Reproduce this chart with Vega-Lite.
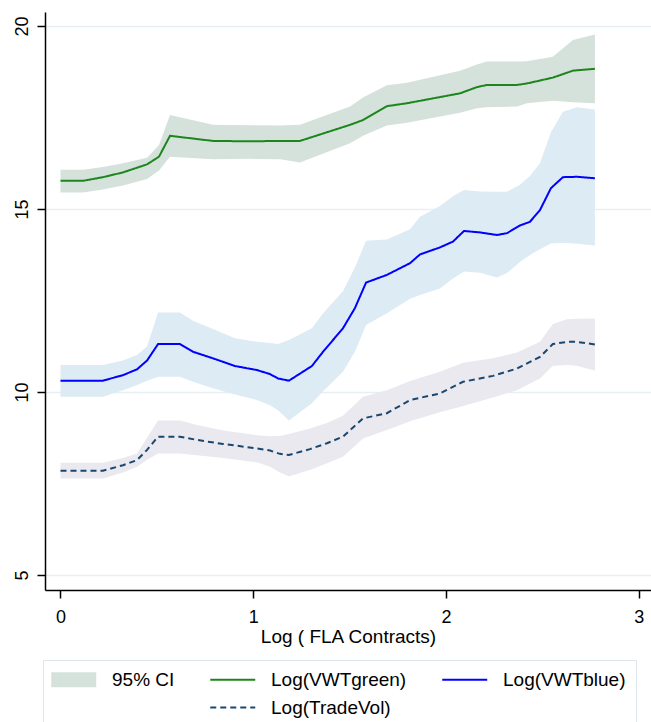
{
  "$schema": "https://vega.github.io/schema/vega-lite/v6.json",
  "width": 606,
  "height": 578,
  "autosize": {"type": "none"},
  "padding": {"left": 45, "top": 12, "right": 0, "bottom": 132},
  "background": "white",
  "config": {
    "font": "Liberation Sans",
    "view": {"stroke": null}
  },
  "data": {"values": [
    {"key": "Log(VWTgreen)", "x": 0, "y": 15.77, "lo": 15.45, "hi": 16.07},
    {"key": "Log(VWTgreen)", "x": 0.117, "y": 15.77, "lo": 15.45, "hi": 16.07},
    {"key": "Log(VWTgreen)", "x": 0.220, "y": 15.87, "lo": 15.53, "hi": 16.15},
    {"key": "Log(VWTgreen)", "x": 0.324, "y": 16.00, "lo": 15.64, "hi": 16.25},
    {"key": "Log(VWTgreen)", "x": 0.449, "y": 16.22, "lo": 15.82, "hi": 16.40},
    {"key": "Log(VWTgreen)", "x": 0.511, "y": 16.43, "lo": 16.05, "hi": 16.75},
    {"key": "Log(VWTgreen)", "x": 0.568, "y": 17.00, "lo": 16.43, "hi": 17.57},
    {"key": "Log(VWTgreen)", "x": 0.791, "y": 16.86, "lo": 16.36, "hi": 17.30},
    {"key": "Log(VWTgreen)", "x": 0.983, "y": 16.85, "lo": 16.37, "hi": 17.29},
    {"key": "Log(VWTgreen)", "x": 1.141, "y": 16.86, "lo": 16.36, "hi": 17.28},
    {"key": "Log(VWTgreen)", "x": 1.242, "y": 16.86, "lo": 16.27, "hi": 17.30},
    {"key": "Log(VWTgreen)", "x": 1.502, "y": 17.30, "lo": 16.80, "hi": 17.80},
    {"key": "Log(VWTgreen)", "x": 1.569, "y": 17.43, "lo": 17.00, "hi": 18.05},
    {"key": "Log(VWTgreen)", "x": 1.693, "y": 17.81, "lo": 17.28, "hi": 18.38},
    {"key": "Log(VWTgreen)", "x": 1.797, "y": 17.89, "lo": 17.36, "hi": 18.45},
    {"key": "Log(VWTgreen)", "x": 2.072, "y": 18.16, "lo": 17.63, "hi": 18.78},
    {"key": "Log(VWTgreen)", "x": 2.160, "y": 18.33, "lo": 17.75, "hi": 18.95},
    {"key": "Log(VWTgreen)", "x": 2.212, "y": 18.39, "lo": 17.78, "hi": 19.03},
    {"key": "Log(VWTgreen)", "x": 2.368, "y": 18.39, "lo": 17.80, "hi": 19.03},
    {"key": "Log(VWTgreen)", "x": 2.419, "y": 18.43, "lo": 17.89, "hi": 19.04},
    {"key": "Log(VWTgreen)", "x": 2.554, "y": 18.59, "lo": 17.96, "hi": 19.16},
    {"key": "Log(VWTgreen)", "x": 2.658, "y": 18.78, "lo": 17.92, "hi": 19.62},
    {"key": "Log(VWTgreen)", "x": 2.772, "y": 18.83, "lo": 17.89, "hi": 19.77},

    {"key": "Log(VWTblue)", "x": 0, "y": 10.31, "lo": 9.87, "hi": 10.74},
    {"key": "Log(VWTblue)", "x": 0.220, "y": 10.31, "lo": 9.87, "hi": 10.74},
    {"key": "Log(VWTblue)", "x": 0.324, "y": 10.46, "lo": 10.05, "hi": 10.86},
    {"key": "Log(VWTblue)", "x": 0.397, "y": 10.62, "lo": 10.19, "hi": 11.01},
    {"key": "Log(VWTblue)", "x": 0.449, "y": 10.86, "lo": 10.31, "hi": 11.24},
    {"key": "Log(VWTblue)", "x": 0.506, "y": 11.31, "lo": 10.42, "hi": 12.17},
    {"key": "Log(VWTblue)", "x": 0.620, "y": 11.31, "lo": 10.42, "hi": 12.17},
    {"key": "Log(VWTblue)", "x": 0.687, "y": 11.10, "lo": 10.28, "hi": 11.95},
    {"key": "Log(VWTblue)", "x": 0.791, "y": 10.92, "lo": 10.10, "hi": 11.72},
    {"key": "Log(VWTblue)", "x": 0.905, "y": 10.71, "lo": 9.93, "hi": 11.47},
    {"key": "Log(VWTblue)", "x": 1.019, "y": 10.60, "lo": 9.78, "hi": 11.37},
    {"key": "Log(VWTblue)", "x": 1.087, "y": 10.49, "lo": 9.64, "hi": 11.34},
    {"key": "Log(VWTblue)", "x": 1.128, "y": 10.37, "lo": 9.50, "hi": 11.31},
    {"key": "Log(VWTblue)", "x": 1.185, "y": 10.31, "lo": 9.22, "hi": 11.42},
    {"key": "Log(VWTblue)", "x": 1.304, "y": 10.71, "lo": 9.69, "hi": 11.74},
    {"key": "Log(VWTblue)", "x": 1.362, "y": 11.10, "lo": 10.02, "hi": 12.15},
    {"key": "Log(VWTblue)", "x": 1.465, "y": 11.74, "lo": 10.55, "hi": 12.75},
    {"key": "Log(VWTblue)", "x": 1.527, "y": 12.29, "lo": 11.10, "hi": 13.40},
    {"key": "Log(VWTblue)", "x": 1.585, "y": 12.99, "lo": 11.83, "hi": 14.13},
    {"key": "Log(VWTblue)", "x": 1.693, "y": 13.20, "lo": 12.15, "hi": 14.17},
    {"key": "Log(VWTblue)", "x": 1.813, "y": 13.52, "lo": 12.55, "hi": 14.45},
    {"key": "Log(VWTblue)", "x": 1.865, "y": 13.76, "lo": 12.65, "hi": 14.79},
    {"key": "Log(VWTblue)", "x": 1.968, "y": 13.95, "lo": 12.83, "hi": 15.08},
    {"key": "Log(VWTblue)", "x": 2.036, "y": 14.11, "lo": 13.10, "hi": 15.35},
    {"key": "Log(VWTblue)", "x": 2.093, "y": 14.40, "lo": 13.29, "hi": 15.52},
    {"key": "Log(VWTblue)", "x": 2.176, "y": 14.36, "lo": 13.26, "hi": 15.48},
    {"key": "Log(VWTblue)", "x": 2.264, "y": 14.29, "lo": 13.13, "hi": 15.47},
    {"key": "Log(VWTblue)", "x": 2.316, "y": 14.34, "lo": 13.25, "hi": 15.47},
    {"key": "Log(VWTblue)", "x": 2.383, "y": 14.55, "lo": 13.55, "hi": 15.66},
    {"key": "Log(VWTblue)", "x": 2.435, "y": 14.65, "lo": 13.74, "hi": 15.90},
    {"key": "Log(VWTblue)", "x": 2.487, "y": 14.97, "lo": 13.90, "hi": 16.25},
    {"key": "Log(VWTblue)", "x": 2.544, "y": 15.57, "lo": 14.06, "hi": 17.10},
    {"key": "Log(VWTblue)", "x": 2.606, "y": 15.87, "lo": 14.08, "hi": 17.66},
    {"key": "Log(VWTblue)", "x": 2.679, "y": 15.88, "lo": 14.05, "hi": 17.78},
    {"key": "Log(VWTblue)", "x": 2.772, "y": 15.84, "lo": 14.00, "hi": 17.72},

    {"key": "Log(TradeVol)", "x": 0, "y": 7.85, "lo": 7.64, "hi": 8.07},
    {"key": "Log(TradeVol)", "x": 0.220, "y": 7.85, "lo": 7.64, "hi": 8.07},
    {"key": "Log(TradeVol)", "x": 0.324, "y": 8.00, "lo": 7.80, "hi": 8.20},
    {"key": "Log(TradeVol)", "x": 0.397, "y": 8.14, "lo": 7.96, "hi": 8.32},
    {"key": "Log(TradeVol)", "x": 0.449, "y": 8.42, "lo": 8.15, "hi": 8.75},
    {"key": "Log(TradeVol)", "x": 0.506, "y": 8.78, "lo": 8.32, "hi": 9.22},
    {"key": "Log(TradeVol)", "x": 0.620, "y": 8.78, "lo": 8.32, "hi": 9.22},
    {"key": "Log(TradeVol)", "x": 0.708, "y": 8.69, "lo": 8.27, "hi": 9.10},
    {"key": "Log(TradeVol)", "x": 0.843, "y": 8.58, "lo": 8.20, "hi": 8.95},
    {"key": "Log(TradeVol)", "x": 1.019, "y": 8.46, "lo": 8.08, "hi": 8.82},
    {"key": "Log(TradeVol)", "x": 1.087, "y": 8.40, "lo": 7.96, "hi": 8.79},
    {"key": "Log(TradeVol)", "x": 1.138, "y": 8.31, "lo": 7.80, "hi": 8.80},
    {"key": "Log(TradeVol)", "x": 1.185, "y": 8.28, "lo": 7.70, "hi": 8.85},
    {"key": "Log(TradeVol)", "x": 1.294, "y": 8.44, "lo": 7.87, "hi": 9.00},
    {"key": "Log(TradeVol)", "x": 1.382, "y": 8.60, "lo": 8.05, "hi": 9.15},
    {"key": "Log(TradeVol)", "x": 1.465, "y": 8.78, "lo": 8.23, "hi": 9.35},
    {"key": "Log(TradeVol)", "x": 1.569, "y": 9.28, "lo": 8.73, "hi": 9.87},
    {"key": "Log(TradeVol)", "x": 1.693, "y": 9.42, "lo": 8.96, "hi": 10.05},
    {"key": "Log(TradeVol)", "x": 1.813, "y": 9.78, "lo": 9.20, "hi": 10.30},
    {"key": "Log(TradeVol)", "x": 1.968, "y": 9.96, "lo": 9.45, "hi": 10.55},
    {"key": "Log(TradeVol)", "x": 2.088, "y": 10.28, "lo": 9.62, "hi": 10.80},
    {"key": "Log(TradeVol)", "x": 2.243, "y": 10.44, "lo": 9.85, "hi": 10.92},
    {"key": "Log(TradeVol)", "x": 2.368, "y": 10.64, "lo": 10.05, "hi": 11.08},
    {"key": "Log(TradeVol)", "x": 2.487, "y": 10.96, "lo": 10.37, "hi": 11.37},
    {"key": "Log(TradeVol)", "x": 2.554, "y": 11.31, "lo": 10.72, "hi": 11.86},
    {"key": "Log(TradeVol)", "x": 2.627, "y": 11.37, "lo": 10.74, "hi": 11.99},
    {"key": "Log(TradeVol)", "x": 2.679, "y": 11.37, "lo": 10.72, "hi": 12.00},
    {"key": "Log(TradeVol)", "x": 2.772, "y": 11.30, "lo": 10.58, "hi": 12.01}
  ]},
  "layer": [
    {
      "mark": {"type": "area", "interpolate": "linear"},
      "encoding": {
        "x": {
          "field": "x", "type": "quantitative",
          "scale": {"domain": [-0.0804, 3.063], "nice": false, "zero": false},
          "axis": {
            "values": [0, 1, 2, 3], "format": "d", "grid": false,
            "domainColor": "#000", "domainWidth": 1.5,
            "tickColor": "#000", "tickWidth": 1.5, "tickSize": 8,
            "labelFontSize": 18, "labelPadding": 10, "labelColor": "#000",
            "title": "Log ( FLA Contracts)", "titleFontSize": 19,
            "titleFontWeight": "normal", "titleColor": "#000",
            "titleBaseline": "alphabetic", "titleY": 52.7
          }
        },
        "y": {
          "field": "lo", "type": "quantitative",
          "scale": {"domain": [4.59, 20.383], "nice": false, "zero": false},
          "axis": {
            "values": [5, 10, 15, 20], "grid": true,
            "gridColor": "#e6eff2", "gridWidth": 1.5,
            "domainColor": "#000", "domainWidth": 1.5,
            "tickColor": "#000", "tickWidth": 1.5, "tickSize": 8,
            "labelAngle": -90, "labelAlign": "center", "labelBaseline": "bottom",
            "labelPadding": 6, "labelFontSize": 18, "labelColor": "#000",
            "title": null
          }
        },
        "y2": {"field": "hi"},
        "fill": {
          "field": "key", "type": "nominal",
          "scale": {
            "domain": ["Log(VWTgreen)", "Log(VWTblue)", "Log(TradeVol)"],
            "range": ["#d5e2dc", "#ddebf4", "#e9e9ef"]
          },
          "legend": null
        }
      }
    },
    {
      "mark": {"type": "line", "interpolate": "linear", "strokeWidth": 2},
      "encoding": {
        "x": {"field": "x", "type": "quantitative"},
        "y": {"field": "y", "type": "quantitative"},
        "stroke": {
          "field": "key", "type": "nominal",
          "scale": {
            "domain": ["95% CI", "Log(VWTgreen)", "Log(VWTblue)", " ", "Log(TradeVol)"],
            "range": ["#d5e2dc", "#1c861c", "#0000ff", "transparent", "#1a476f"]
          },
          "legend": {
            "orient": "none", "legendX": -2, "legendY": 648,
            "direction": "horizontal", "columns": 3, "gridAlign": "each",
            "columnPadding": 31, "rowPadding": 8, "padding": 10,
            "strokeColor": "#dde7ea", "fillColor": "#ffffff",
            "title": null, "labelFontSize": 19, "labelColor": "#000",
            "labelOffset": 40, "labelLimit": 300,
            "symbolType": "M-1,0H3", "symbolSize": 506, "symbolStrokeWidth": 2,
            "encode": {
              "symbols": {
                "update": {
                  "shape": {"signal": "datum.value === '95% CI' ? 'M-1,-0.667H3V0.667H-1Z' : 'M-1,0H3'"},
                  "fill": {"signal": "datum.value === '95% CI' ? '#d5e2dc' : 'transparent'"},
                  "strokeWidth": {"signal": "datum.value === '95% CI' ? 0 : 2"}
                }
              }
            }
          }
        },
        "strokeDash": {
          "field": "key", "type": "nominal",
          "scale": {
            "domain": ["95% CI", "Log(VWTgreen)", "Log(VWTblue)", " ", "Log(TradeVol)"],
            "range": [[1, 0], [1, 0], [1, 0], [1, 0], [6, 4]]
          },
          "legend": {
            "orient": "none", "legendX": -2, "legendY": 648,
            "direction": "horizontal", "columns": 3, "gridAlign": "each",
            "columnPadding": 31, "rowPadding": 8, "padding": 10,
            "strokeColor": "#dde7ea", "fillColor": "#ffffff",
            "title": null, "labelFontSize": 19, "labelColor": "#000",
            "labelOffset": 40, "labelLimit": 300,
            "symbolType": "M-1,0H3", "symbolSize": 506, "symbolStrokeWidth": 2,
            "encode": {
              "symbols": {
                "update": {
                  "shape": {"signal": "datum.value === '95% CI' ? 'M-1,-0.667H3V0.667H-1Z' : 'M-1,0H3'"},
                  "fill": {"signal": "datum.value === '95% CI' ? '#d5e2dc' : 'transparent'"},
                  "strokeWidth": {"signal": "datum.value === '95% CI' ? 0 : 2"}
                }
              }
            }
          }
        }
      }
    }
  ]
}
